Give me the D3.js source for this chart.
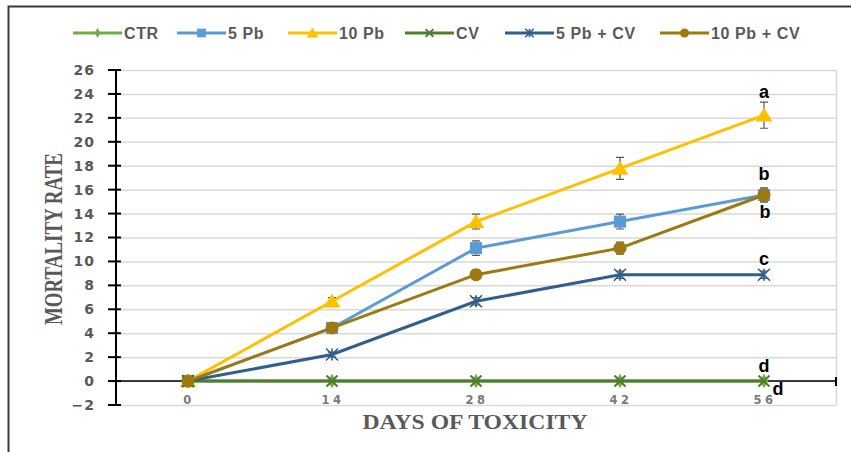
<!DOCTYPE html>
<meta charset="utf-8">
<style>
  body { margin: 0; background: #fff; }
</style>
<script src="https://d3js.org/d3.v7.min.js"></script>
<div id="my_dataviz"></div>
<script>

    // data
    var days = [0, 14, 28, 42, 56];
    var seriesNames = ["CTR", "5 Pb", "10 Pb", "CV", "5 Pb + CV", "10 Pb + CV"];
    var ctr = [0, 0, 0, 0, 0];
    var pb5 = [0, 4.44, 11.11, 13.33, 15.55];
    var pb10 = [0, 6.67, 13.33, 17.78, 22.22];
    var cv = [0, 0, 0, 0, 0];
    var pb5cv = [0, 2.22, 6.67, 8.89, 8.89];
    var pb10cv = [0, 4.44, 8.89, 11.11, 15.55];
    // error bar half-widths
    var ctrErr = [0, 0, 0, 0, 0];
    var pb5Err = [0, 0.3, 0.6, 0.62, 0.6];
    var pb10Err = [0, 0.3, 0.62, 0.92, 1.09];
    var cvErr = [0, 0, 0, 0, 0];
    var pb5cvErr = [0, 0.2, 0.3, 0.3, 0.3];
    var pb10cvErr = [0, 0.3, 0.4, 0.5, 0.5];
    // significance letters at day 56
    var sigLetters = ["d", "b", "a", "d", "c", "b"];
    var yTicks = [-2, 0, 2, 4, 6, 8, 10, 12, 14, 16, 18, 20, 22, 24, 26];

    var values = [ctr, pb5, pb10, cv, pb5cv, pb10cv];
    var errors = [ctrErr, pb5Err, pb10Err, cvErr, pb5cvErr, pb10cvErr];
    var colors = ["#70AD47", "#5B9BD5", "#FFC000", "#4E7D2E", "#2F5F8C", "#9C7A0F"];
    var symbols = ["diamond", "square", "triangle", "cross", "star", "circle"];
    // where each letter sits relative to its last point
    var letterOffsets = [[14, 14], [0, -15], [0, -17], [0, -9], [0, -10], [1, 23]];

    var W = 851, H = 452;
    var margin = { top: 70, right: 15, bottom: 47, left: 116 },
        width = W - margin.left - margin.right,
        height = H - margin.top - margin.bottom;

    var root = d3.select("#my_dataviz")
        .append("svg")
        .attr("width", W)
        .attr("height", H);

    // outer chart border (left and top edges visible)
    root.append("path")
        .attr("d", "M8.5,452 V6.5 H851")
        .attr("fill", "none")
        .attr("stroke", "#3a3a3a")
        .attr("stroke-width", 2);

    var svg = root.append("g")
        .attr("transform", "translate(" + margin.left + "," + margin.top + ")");

    var x = d3.scaleBand()
        .domain(days)
        .range([0, width]);

    var y = d3.scaleLinear()
        .domain([-2, 26])
        .range([height, 0]);

    // gridlines
    svg.append("g")
        .selectAll("line")
        .data(yTicks)
        .enter().append("line")
        .attr("x1", 0).attr("x2", width)
        .attr("y1", function (d) { return y(d) + 0.5; })
        .attr("y2", function (d) { return y(d) + 0.5; })
        .attr("stroke", "#d9d9d9")
        .attr("stroke-width", 1.5);

    // plot area right edge
    svg.append("line")
        .attr("x1", width + 0.5).attr("x2", width + 0.5)
        .attr("y1", 0).attr("y2", height)
        .attr("stroke", "#d9d9d9")
        .attr("stroke-width", 1.5);

    // Y axis
    var yAxis = svg.append("g")
        .call(d3.axisLeft(y).tickValues(yTicks).tickSize(0).tickPadding(21));
    yAxis.select(".domain").remove();
    yAxis.selectAll("text")
        .attr("fill", "#595959")
        .style("font-family", "DejaVu Sans")
        .style("font-weight", "bold")
        .style("font-size", "14px")
        .style("letter-spacing", "1px");
    svg.append("line")
        .attr("x1", 0).attr("x2", 0)
        .attr("y1", 0).attr("y2", height)
        .attr("stroke", "#000").attr("stroke-width", 2);
    svg.append("g")
        .selectAll("line")
        .data(yTicks)
        .enter().append("line")
        .attr("x1", -8).attr("x2", 5)
        .attr("y1", function (d) { return y(d); })
        .attr("y2", function (d) { return y(d); })
        .attr("stroke", "#000").attr("stroke-width", 2);

    // X axis at y = 0
    svg.append("line")
        .attr("x1", 0).attr("x2", width)
        .attr("y1", y(0)).attr("y2", y(0))
        .attr("stroke", "#000").attr("stroke-width", 1.5);
    svg.append("g")
        .selectAll("line")
        .data(days.slice(1).concat(["end"]))
        .enter().append("line")
        .attr("x1", function (d) { return d === "end" ? width : x(d) + x.bandwidth() / 2; })
        .attr("x2", function (d) { return d === "end" ? width : x(d) + x.bandwidth() / 2; })
        .attr("y1", y(0) - 4).attr("y2", y(0) + 5)
        .attr("stroke", "#000").attr("stroke-width", 2);

    svg.append("g")
        .selectAll("text")
        .data(days)
        .enter().append("text")
        .attr("x", function (d) { return x(d) + x.bandwidth() / 2 + 1; })
        .attr("y", y(-2) - 1)
        .attr("text-anchor", "middle")
        .attr("fill", "#7a7a7a")
        .style("font-family", "DejaVu Sans")
        .style("font-weight", "bold")
        .style("font-size", "11.5px")
        .style("letter-spacing", "3.5px")
        .text(function (d) { return d; });

    // axis titles
    svg.append("text")
        .attr("transform", "translate(" + (-54) + "," + (239 - margin.top) + ") rotate(-90)")
        .attr("text-anchor", "middle")
        .attr("fill", "#595959")
        .attr("textLength", 172)
        .attr("lengthAdjust", "spacingAndGlyphs")
        .style("font-family", "Liberation Serif")
        .style("font-weight", "bold")
        .style("font-size", "25px")
        .text("MORTALITY RATE");

    svg.append("text")
        .attr("x", 475 - margin.left)
        .attr("y", 429 - margin.top)
        .attr("text-anchor", "middle")
        .attr("fill", "#595959")
        .attr("textLength", 225)
        .attr("lengthAdjust", "spacingAndGlyphs")
        .style("font-family", "Liberation Serif")
        .style("font-weight", "bold")
        .style("font-size", "20px")
        .text("DAYS OF TOXICITY");

    // marker drawing
    function drawMarker(g, type, color, s) {
        if (type === "diamond") {
            g.append("path").attr("d", d3.symbol().type(d3.symbolDiamond).size(s * s * 0.5)()).attr("fill", color);
        } else if (type === "square") {
            g.append("rect").attr("x", -s / 2).attr("y", -s / 2).attr("width", s).attr("height", s)
                .attr("fill", color).attr("stroke", color);
        } else if (type === "triangle") {
            g.append("path").attr("d", "M0," + (-s * 0.55) + "L" + (s * 0.6) + "," + (s * 0.45) + "L" + (-s * 0.6) + "," + (s * 0.45) + "Z")
                .attr("fill", color);
        } else if (type === "cross") {
            var h = s / 2;
            g.append("path").attr("d", "M" + -h + "," + -h + "L" + h + "," + h + "M" + h + "," + -h + "L" + -h + "," + h)
                .attr("stroke", color).attr("stroke-width", 2).attr("fill", "none");
        } else if (type === "star") {
            var r = s / 2;
            g.append("path").attr("d", "M" + -r + "," + -r + "L" + r + "," + r + "M" + r + "," + -r + "L" + -r + "," + r + "M0," + -r + "L0," + r)
                .attr("stroke", color).attr("stroke-width", 1.6).attr("fill", "none");
        } else if (type === "circle") {
            g.append("circle").attr("r", s / 2).attr("fill", color);
        }
    }

    var markerSize = [11, 11, 14, 11, 12, 13];
    var cx = function (i) { return x(days[i]) + x.bandwidth() / 2; };

    values.forEach(function (vals, k) {
        var g = svg.append("g");
        // line
        g.append("path")
            .datum(vals)
            .attr("fill", "none")
            .attr("stroke", colors[k])
            .attr("stroke-width", 3)
            .attr("d", d3.line()
                .x(function (d, i) { return cx(i); })
                .y(function (d) { return y(d); }));
        // error bars
        vals.forEach(function (v, i) {
            var e = errors[k][i];
            if (e <= 0) return;
            var p = cx(i);
            g.append("path")
                .attr("d", "M" + p + "," + y(v + e) + "V" + y(v - e)
                    + "M" + (p - 4) + "," + y(v + e) + "H" + (p + 4)
                    + "M" + (p - 4) + "," + y(v - e) + "H" + (p + 4))
                .attr("stroke", "#595959")
                .attr("stroke-width", 1.2)
                .attr("fill", "none");
        });
        // markers
        vals.forEach(function (v, i) {
            var m = g.append("g").attr("transform", "translate(" + cx(i) + "," + y(v) + ")");
            drawMarker(m, symbols[k], colors[k], markerSize[k]);
        });
    });

    // significance letters
    svg.append("g")
        .selectAll("text")
        .data(sigLetters)
        .enter().append("text")
        .attr("x", function (d, k) { return cx(4) + letterOffsets[k][0]; })
        .attr("y", function (d, k) { return y(values[k][4]) + letterOffsets[k][1]; })
        .attr("text-anchor", "middle")
        .attr("fill", "#000")
        .style("font-family", "Liberation Sans")
        .style("font-weight", "bold")
        .style("font-size", "18px")
        .text(function (d) { return d; });

    // legend
    var legendX = [73, 177, 288, 405, 505, 660];
    var legend = root.append("g");
    seriesNames.forEach(function (name, k) {
        var g = legend.append("g").attr("transform", "translate(" + legendX[k] + ",33)");
        g.append("line").attr("x1", 0).attr("x2", 49).attr("y1", 0).attr("y2", 0)
            .attr("stroke", colors[k]).attr("stroke-width", 3);
        var m = g.append("g").attr("transform", "translate(24.5,0)");
        drawMarker(m, symbols[k], colors[k], markerSize[k] * 0.7);
        g.append("text")
            .attr("x", 51)
            .attr("y", 5.5)
            .attr("fill", "#595959")
            .style("font-family", "Liberation Sans")
            .style("font-weight", "bold")
            .style("font-size", "16px")
            .style("letter-spacing", "0.6px")
            .text(name);
    });

</script>
